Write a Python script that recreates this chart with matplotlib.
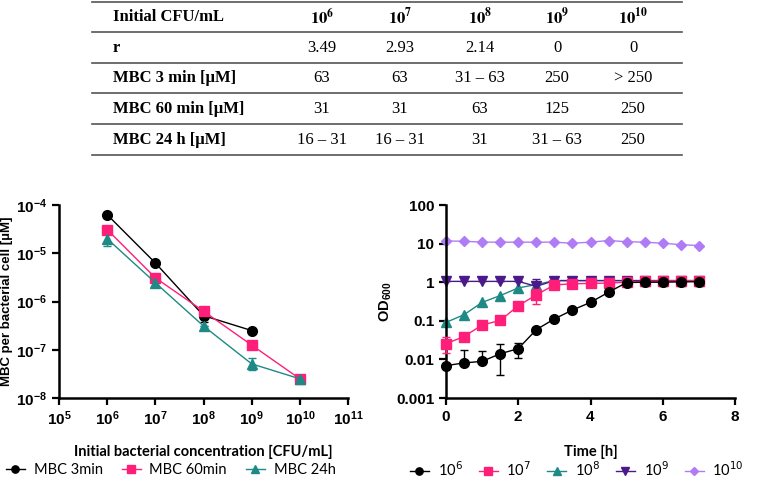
import matplotlib
matplotlib.use("Agg")
import matplotlib.pyplot as plt
from matplotlib.lines import Line2D
from matplotlib.ticker import FixedLocator, FixedFormatter, NullLocator

plt.rcParams['font.family'] = ['Liberation Sans', 'DejaVu Sans']
plt.rcParams['mathtext.fontset'] = 'custom'
plt.rcParams['mathtext.rm'] = 'Liberation Sans:bold'
plt.rcParams['mathtext.it'] = 'Liberation Sans:bold'
plt.rcParams['mathtext.bf'] = 'Liberation Sans:bold'
plt.rcParams['mathtext.sf'] = 'Liberation Sans:bold'

# table
col_heads = ['6', '7', '8', '9', '10']
row_names = ['r', 'MBC 3 min [µM]', 'MBC 60 min [µM]', 'MBC 24 h [µM]']
cells = [['3.49', '2.93', '2.14', '0', '0'],
         ['63', '63', '31 – 63', '250', '> 250'],
         ['31', '31', '63', '125', '250'],
         ['16 – 31', '16 – 31', '31', '31 – 63', '250']]

# left panel: MBC per cell
cfu = [1e6, 1e7, 1e8, 1e9, 1e10]
mbc3 = [6.3e-5, 6.3e-6, 5.1e-7, 2.5e-7]
mbc3_lo = [0, 0, 1.4e-7, 0]
mbc3_hi = [0, 0, 1.4e-7, 0]
mbc60 = [3.1e-5, 3.1e-6, 6.3e-7, 1.25e-7, 2.5e-8]
mbc24 = [2.0e-5, 2.45e-6, 3.1e-7, 5.1e-8, 2.5e-8]
mbc24_lo = [0.6e-5, 0.45e-6, 0, 1.3e-8, 0]
mbc24_hi = [0.5e-5, 0.5e-6, 0, 1.5e-8, 0]

# right panel: growth curves
t = [0, 0.5, 1, 1.5, 2, 2.5, 3, 3.5, 4, 4.5, 5, 5.5, 6, 6.5, 7]
od6 = [0.0069, 0.0081, 0.0089, 0.014, 0.019, 0.059, 0.112, 0.19, 0.30, 0.55, 0.98, 1.0, 1.0, 1.02, 1.03]
od6_lo = [0, 0, 0, 0.010, 0.008, 0, 0, 0, 0, 0, 0, 0, 0, 0, 0]
od6_hi = [0, 0.009, 0.008, 0.0105, 0.0075, 0, 0, 0, 0, 0, 0, 0, 0, 0, 0]
od7 = [0.0256, 0.039, 0.078, 0.102, 0.245, 0.47, 0.85, 0.91, 0.93, 0.95, 1.0, 1.05, 1.07, 1.08, 1.1]
od7_lo = [0.0106, 0, 0, 0, 0, 0.2, 0, 0, 0, 0, 0, 0, 0, 0, 0]
od7_hi = [0.0114, 0, 0, 0, 0, 0.2, 0, 0, 0, 0, 0, 0, 0, 0, 0]
od8 = [0.091, 0.144, 0.30, 0.45, 0.71, 0.87, 1.1, 1.1, 1.1, 1.1, 1.1, 1.1, 1.1, 1.1, 1.1]
od9 = [1.05, 1.05, 1.05, 1.05, 1.05, 0.78, 1.1, 1.1, 1.1, 1.1, 1.1, 1.1, 1.1, 1.1, 1.1]
od9_lo = [0, 0, 0, 0, 0, 0.4, 0, 0, 0, 0, 0, 0, 0, 0, 0]
od9_hi = [0, 0, 0, 0, 0, 0.4, 0, 0, 0, 0, 0, 0, 0, 0, 0]
od10 = [11.7, 11.5, 10.9, 10.9, 10.9, 10.9, 10.9, 10.2, 10.9, 12.0, 11.2, 10.9, 10.2, 9.4, 8.9]

BLACK = '#000000'
PINK = '#FF1F78'
TEAL = '#1D8A85'
PURPLE = '#4A1A8A'
LAV = '#B07CF5'

W, H = 768, 484
fig = plt.figure(figsize=(7.68, 4.84), dpi=100)

def fy(py):
    return 1 - py / H

# table drawing
for ly in [2, 32, 63, 93, 124, 155]:
    fig.add_artist(Line2D([92 / W, 682 / W], [fy(ly), fy(ly)], color='#555555', lw=1.2))
col_x = [322, 400, 480, 557, 633]
row_y = [17, 48, 78, 109, 140]
serif = 'Liberation Serif'
fig.text(113 / W, fy(row_y[0]), 'Initial CFU/mL', family=serif, weight='bold', size=12, va='center')
for cx, h in zip(col_x, col_heads):
    fig.text(cx / W, fy(row_y[0]), r'$\mathbf{10^{%s}}$' % h, math_fontfamily='stix', size=12,
             ha='center', va='center')
for ry, name, row in zip(row_y[1:], row_names, cells):
    fig.text(113 / W, fy(ry), name, family=serif, weight='bold', size=12, va='center')
    for cx, v in zip(col_x, row):
        fig.text(cx / W, fy(ry), v, family=serif, size=12, ha='center', va='center')

def style(ax, size):
    for s in ['top', 'right']:
        ax.spines[s].set_visible(False)
    for s in ['left', 'bottom']:
        ax.spines[s].set_linewidth(1.8)
    ax.tick_params(width=1.6, length=5, labelsize=size)
    for lab in ax.get_xticklabels() + ax.get_yticklabels():
        lab.set_fontweight('bold')

ekw = dict(capsize=3, elinewidth=1, capthick=1, lw=1, clip_on=False)

# left plot
ax1 = fig.add_axes([59 / W, fy(398), 289 / W, 193 / H])
c1 = ax1.errorbar(cfu[:4], mbc3, yerr=[mbc3_lo, mbc3_hi], fmt='-o', color=BLACK, ms=7, **ekw)
c2 = ax1.errorbar(cfu, mbc60, fmt='-s', color=PINK, ms=7, **ekw)
c3 = ax1.errorbar(cfu, mbc24, yerr=[mbc24_lo, mbc24_hi], fmt='-^', color=TEAL, ms=7, **ekw)
ax1.set_xscale('log')
ax1.set_yscale('log')
ax1.set_xlim(1e5, 1e11)
ax1.set_ylim(1e-8, 1e-4)
ax1.xaxis.set_major_locator(FixedLocator([10.0 ** k for k in range(5, 12)]))
ax1.yaxis.set_major_locator(FixedLocator([10.0 ** k for k in range(-8, -3)]))
ax1.xaxis.set_minor_locator(NullLocator())
ax1.yaxis.set_minor_locator(NullLocator())
style(ax1, 11)
ax1.set_ylabel('MBC per bacterial cell [µM]', fontsize=9.5, fontweight='bold')
ax1.yaxis.set_label_coords(-46 / 289, 0.5)
ax1.set_xlabel('Initial bacterial concentration [CFU/mL]', family='Lato', fontsize=10.5,
               fontweight='bold')
ax1.xaxis.set_label_coords(0.5, -47 / 193)

# right plot
ax2 = fig.add_axes([446 / W, fy(398), 289 / W, 193 / H])
d5 = ax2.errorbar(t, od10, fmt='-D', color=LAV, ms=5.5, zorder=2, **ekw)
d3 = ax2.errorbar(t, od8, fmt='-^', color=TEAL, ms=7, zorder=2.2, **ekw)
d4 = ax2.errorbar(t, od9, yerr=[od9_lo, od9_hi], fmt='-v', color=PURPLE, ms=7, zorder=2.4, **ekw)
d2 = ax2.errorbar(t, od7, yerr=[od7_lo, od7_hi], fmt='-s', color=PINK, ms=7, zorder=2.6, **ekw)
d1 = ax2.errorbar(t, od6, yerr=[od6_lo, od6_hi], fmt='-o', color=BLACK, ms=7, zorder=2.8, **ekw)
ax2.set_yscale('log')
ax2.set_xlim(0, 8)
ax2.set_ylim(0.001, 100)
ax2.set_xticks([0, 2, 4, 6, 8])
ax2.yaxis.set_major_locator(FixedLocator([0.001, 0.01, 0.1, 1, 10, 100]))
ax2.yaxis.set_major_formatter(FixedFormatter(['0.001', '0.01', '0.1', '1', '10', '100']))
ax2.yaxis.set_minor_locator(NullLocator())
style(ax2, 11)
ax2.set_ylabel('OD$_{600}$', fontsize=10.5, fontweight='bold')
ax2.yaxis.set_label_coords(-52 / 289, 0.5)
ax2.set_xlabel('Time [h]', family='Lato', fontsize=10.5, fontweight='bold')
ax2.xaxis.set_label_coords(0.5, -47 / 193)

lkw = dict(loc='center left', frameon=False, prop={'family': 'Lato', 'size': 10.5},
           handlelength=1.3, handletextpad=0.6, borderaxespad=0, borderpad=0, markerscale=0.75)
leg1 = ax1.legend([c[0] for c in (c1, c2, c3)], ['MBC 3min', 'MBC 60min', 'MBC 24h'],
                  bbox_to_anchor=(-53 / 289, -72 / 193), ncol=3, columnspacing=1.3, **lkw)
leg2 = ax2.legend([d[0] for d in (d1, d2, d3, d4, d5)],
                  ['10$^{6}$', '10$^{7}$', '10$^{8}$', '10$^{9}$', '10$^{10}$'],
                  bbox_to_anchor=(-36 / 289, -72 / 193), ncol=5, columnspacing=1.1, **lkw)
for txt in leg2.get_texts():
    txt.set_math_fontfamily('dejavusans')

fig.savefig('out.png', dpi=100)
